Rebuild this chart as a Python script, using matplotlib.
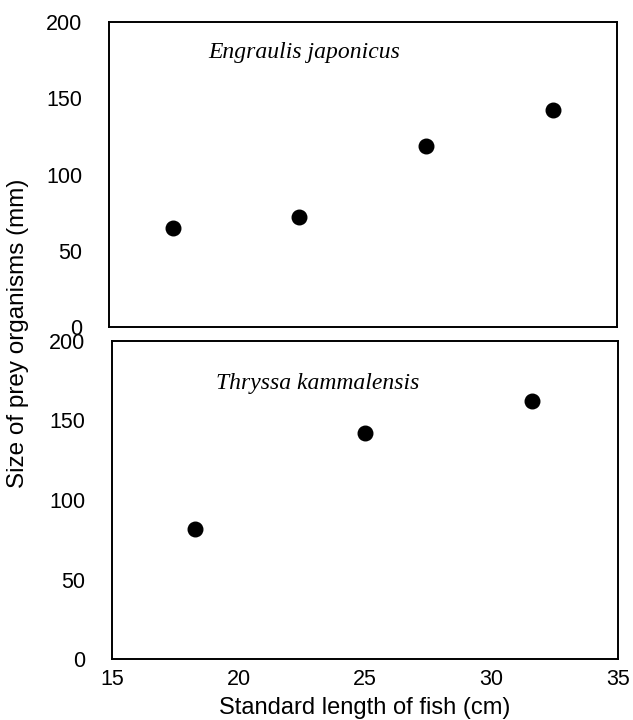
import matplotlib
matplotlib.use("Agg")
import matplotlib.pyplot as plt

# Engraulis japonicus (top panel)
eng_length = [17.5, 22.5, 27.5, 32.5]
eng_prey = [65, 72, 119, 142]

# Thryssa kammalensis (bottom panel)
thr_length = [18.3, 25.0, 31.6]
thr_prey = [82, 142, 162]

x_ticks = [15, 20, 25, 30, 35]
y_ticks = [0, 50, 100, 150, 200]

plt.rcParams["font.family"] = ["Liberation Sans", "DejaVu Sans"]

fig = plt.figure(figsize=(6.33, 7.2), dpi=100)
ax_top = fig.add_axes([0.1722, 0.5458, 0.8025, 0.4236])
ax_bot = fig.add_axes([0.1769, 0.0847, 0.7994, 0.4417])

panels = [
    (ax_top, eng_length, eng_prey, "Engraulis japonicus", 18.9, 180),
    (ax_bot, thr_length, thr_prey, "Thryssa kammalensis", 19.1, 173.5),
]

for ax, xs, ys, name, tx, ty in panels:
    ax.scatter(xs, ys, s=110, color="black", zorder=3)
    ax.set_xlim(15, 35)
    ax.set_ylim(0, 200)
    ax.set_yticks(y_ticks)
    ax.set_xticks(x_ticks)
    ax.tick_params(length=0, labelsize=15.5, pad=19)
    for sp in ax.spines.values():
        sp.set_linewidth(1.4)
    ax.text(tx, ty, name, family="Liberation Serif", style="italic",
            fontsize=17, ha="left", va="center")

ax_top.tick_params(axis="x", labelbottom=False)
ax_bot.tick_params(axis="x", pad=7)

fig.text(365 / 633, 1 - 708 / 720, "Standard length of fish (cm)",
         ha="center", va="center", fontsize=17)
fig.text(18 / 633, 1 - 333 / 720, "Size of prey organisms (mm)",
         ha="center", va="center", rotation=90, fontsize=17.5)

fig.savefig("out.png", dpi=100)
